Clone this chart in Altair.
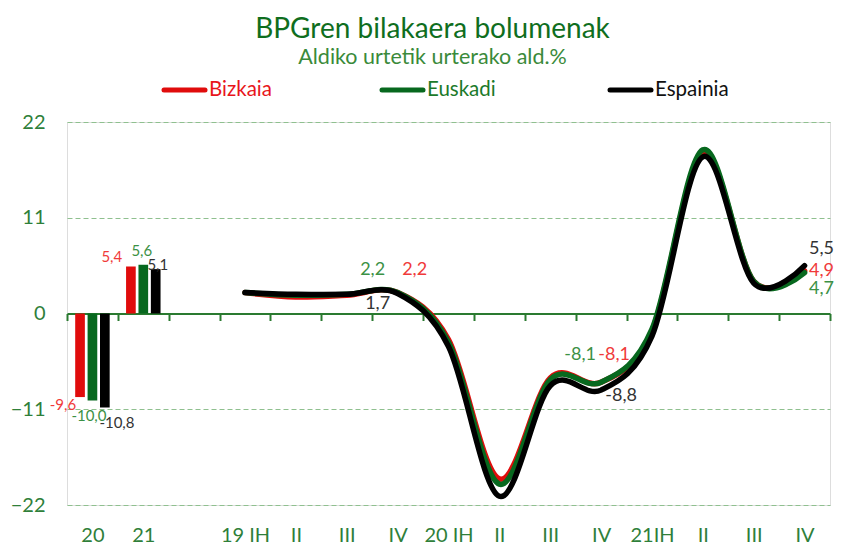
import json
import altair as alt
import pandas as pd

# ---------------- data ----------------
series = ["Bizkaia", "Euskadi", "Espainia"]
series_colors = ["#e00c0c", "#07681e", "#000000"]
label_colors = ["#f03a3a", "#3c9145", "#333333"]
legend_text_colors = ["#e8151b", "#1b7a2a", "#111111"]

bar_years = ["20", "21"]
bar_bizkaia = [-9.6, 5.4]
bar_euskadi = [-10.0, 5.6]
bar_espainia = [-10.8, 5.1]

quarters = ["19 IH", "19 II", "19 III", "19 IV", "20 IH", "20 II",
            "20 III", "20 IV", "21 IH", "21 II", "21 III", "21 IV"]
line_bizkaia = [2.4, 1.9, 2.1, 2.4, -3.0, -19.0, -7.4, -7.9, -2.0, 18.5, 3.7, 4.9]
line_euskadi = [2.4, 2.1, 2.2, 2.4, -3.3, -19.6, -7.6, -7.9, -1.8, 18.8, 3.7, 4.7]
line_espainia = [2.4, 2.2, 2.2, 2.3, -3.8, -21.0, -8.3, -8.8, -2.6, 18.0, 3.5, 5.5]

# data labels shown on the lines (quarter, value per series)
line_label_quarters = ["19 IV", "20 IV", "21 IV"]
line_label_bizkaia = [2.2, -8.1, 4.9]
line_label_euskadi = [2.2, -8.1, 4.7]
line_label_espainia = [1.7, -8.8, 5.5]

cat_keys = bar_years + [" "] + quarters
axis_labels = ["20", "21", "", "19 IH", "II", "III", "IV", "20 IH", "II", "III", "IV",
               "21IH", "II", "III", "IV"]

# ---------------- tables ----------------
bar_vals = [bar_bizkaia, bar_euskadi, bar_espainia]
line_vals = [line_bizkaia, line_euskadi, line_espainia]
line_label_vals = [line_label_bizkaia, line_label_euskadi, line_label_espainia]

bars_df = pd.DataFrame([
    {"cat": y, "series": s, "value": v}
    for s, vals in zip(series, bar_vals) for y, v in zip(bar_years, vals)
])
lines_df = pd.DataFrame([
    {"cat": q, "series": s, "value": v}
    for s, vals in zip(series, line_vals) for q, v in zip(quarters, vals)
])


def fmt(v):
    return f"{v:.1f}".replace(".", ",")


FONT = "Lato"
AXIS_GREEN = "#2f7f3a"

label_expr = f"{json.dumps(axis_labels)}[indexof({json.dumps(cat_keys)}, datum.value)]"


def x_enc(band_pos=None):
    kw = {}
    if band_pos is not None:
        kw["bandPosition"] = band_pos
    return alt.X(
        "cat:N", sort=None,
        scale=alt.Scale(type="band", domain=cat_keys, paddingInner=0, paddingOuter=0),
        axis=alt.Axis(
            title=None, orient="bottom", offset=-191.5, labelExpr=label_expr, labelAngle=0,
            labelPadding=205, tickBand="extent", tickSize=7, tickWidth=2, tickColor="#2a7a30",
            domainColor="#2a7a30", domainWidth=2, labelColor=AXIS_GREEN, labelFontSize=20,
            labelFont=FONT, grid=False, labelOverlap=False,
        ),
        **kw,
    )


Y = alt.Y(
    "value:Q",
    scale=alt.Scale(domain=[-22, 22], nice=False, zero=False),
    axis=alt.Axis(
        title=None, values=[-22, -11, 0, 11, 22], domain=False, ticks=False, labelPadding=22,
        labelFontSize=20, labelFont=FONT, labelColor=AXIS_GREEN, gridColor="#8fc08f",
        gridDash=[5, 3], gridWidth=1,
    ),
)

bars = alt.Chart(bars_df).mark_bar().encode(
    x=x_enc(),
    xOffset=alt.XOffset("series:N", sort=series,
                        scale=alt.Scale(domain=series, paddingInner=0.22, paddingOuter=0.66)),
    y=Y,
    fill=alt.Fill("series:N", scale=alt.Scale(domain=series, range=series_colors), legend=None),
)

lines = alt.Chart(lines_df).mark_line(
    interpolate="cardinal", strokeWidth=5.5, strokeCap="round", strokeJoin="round"
).encode(
    x=x_enc(0.5), y=Y,
    color=alt.Color("series:N", scale=alt.Scale(domain=series, range=series_colors),
                    sort=series, legend=None),
)

# label offsets (dx from band centre, dy from the value position)
bar_label_offsets = {
    ("20", "Bizkaia"): (-29.5, 8), ("20", "Euskadi"): (-3.5, 15), ("20", "Espainia"): (24.5, 15),
    ("21", "Bizkaia"): (-31.5, -9), ("21", "Euskadi"): (-1.5, -14), ("21", "Espainia"): (14.5, -4),
}
line_label_offsets = {
    ("19 IV", "Bizkaia"): (17, -23), ("19 IV", "Euskadi"): (-25, -23), ("19 IV", "Espainia"): (-20, 11),
    ("20 IV", "Bizkaia"): (13, -27), ("20 IV", "Euskadi"): (-21, -27), ("20 IV", "Espainia"): (20, 6),
    ("21 IV", "Bizkaia"): (17, 0), ("21 IV", "Euskadi"): (17, 16), ("21 IV", "Espainia"): (17, -17),
}

text_layers = []
for si, s in enumerate(series):
    for y, v in zip(bar_years, bar_vals[si]):
        dx, dy = bar_label_offsets[(y, s)]
        df = pd.DataFrame({"cat": [y], "value": [v], "text": [fmt(v)]})
        text_layers.append(
            alt.Chart(df).mark_text(dx=dx, dy=dy, fontSize=15, font=FONT, color=label_colors[si],
                                    align="center", baseline="middle")
            .encode(x=x_enc(0.5), y=Y, text="text:N")
        )
    for q, lv in zip(line_label_quarters, line_label_vals[si]):
        dx, dy = line_label_offsets[(q, s)]
        pos = line_vals[si][quarters.index(q)]
        df = pd.DataFrame({"cat": [q], "value": [pos], "text": [fmt(lv)]})
        text_layers.append(
            alt.Chart(df).mark_text(dx=dx, dy=dy, fontSize=18, font=FONT, color=label_colors[si],
                                    align="center", baseline="middle")
            .encode(x=x_enc(0.5), y=Y, text="text:N")
        )

# legend drawn by hand (symbol line + coloured label), placed above the plot
legend_x = [95, 313, 541]     # left end of each legend line, relative to the plot
legend_y = -32
legend_layers = []
for si, s in enumerate(series):
    df = pd.DataFrame({"series": [s]})
    legend_layers.append(
        alt.Chart(df).mark_rule(strokeWidth=5, strokeCap="round", color=series_colors[si])
        .encode(x=alt.value(legend_x[si] + 2), x2=alt.value(legend_x[si] + 43),
                y=alt.value(legend_y))
    )
    legend_layers.append(
        alt.Chart(df).mark_text(fontSize=20.5, font=FONT, color=legend_text_colors[si],
                                align="left", baseline="middle")
        .encode(x=alt.value(legend_x[si] + 47), y=alt.value(legend_y), text="series:N")
    )

chart = alt.layer(bars, lines, *text_layers, *legend_layers).properties(
    width=763,
    height=383,
    autosize="none",
    padding={"left": 59, "top": 114, "right": 12, "bottom": 42},
    title=alt.Title(
        "BPGren bilakaera bolumenak",
        subtitle="Aldiko urtetik urterako ald.%",
        fontSize=28, font=FONT, fontWeight="normal", color="#0f6e1e",
        subtitleFontSize=21.5, subtitleFont=FONT, subtitleColor="#3a8a3a",
        anchor="middle", offset=12, dx=-16, subtitlePadding=3,
    ),
).configure_view(stroke=None).configure(background="white")

chart.save("out.html", embed_options={"renderer": "svg", "actions": False})
